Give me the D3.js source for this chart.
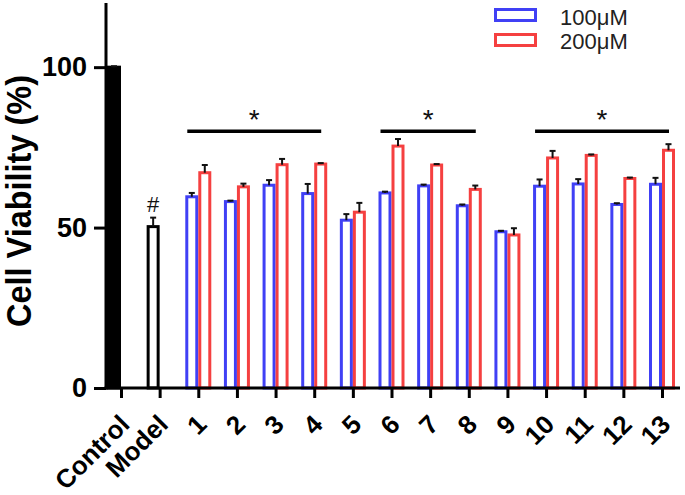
<!DOCTYPE html>
<html>
<head>
<meta charset="utf-8">
<script src="https://cdn.jsdelivr.net/npm/d3@7"></script>
<style>
  html, body { margin: 0; padding: 0; background: #fff; }
  svg { display: block; font-family: "Liberation Sans", Arial, Helvetica, sans-serif; }
</style>
</head>
<body>
<svg id="chart" width="685" height="495"></svg>
<script>
// ---- data ----
const categories = ["Control", "Model", "1", "2", "3", "4", "5", "6", "7", "8", "9", "10", "11", "12", "13"];
const seriesNames = ["100\u03bcM", "200\u03bcM"];
const values100 = [100, 50.3, 59.6, 58.1, 63.2, 60.6, 52.3, 60.8, 63.0, 56.8, 48.7, 62.9, 63.6, 57.2, 63.5];
const errors100 = [0.3, 2.8, 1.2, 0.3, 1.6, 3.0, 1.9, 0.4, 0.4, 0.4, 0.3, 2.1, 1.5, 0.4, 2.0];
const values200 = [null, null, 67.1, 62.7, 69.6, 69.8, 54.8, 75.4, 69.5, 61.9, 47.7, 71.7, 72.5, 65.3, 74.1];
const errors200 = [null, null, 2.4, 1.0, 1.8, 0.3, 2.9, 2.2, 0.3, 1.2, 2.1, 2.2, 0.3, 0.3, 1.9];
const yTicks = [0, 50, 100];
const yLabel = "Cell Viability (%)";
const sigGroups = [["1", "4"], ["6", "8"], ["10", "13"]];
const sigLevel = 80;
const sigMark = "*";
const modelMark = "#";

// ---- layout ----
const svg = d3.select("#chart");
const axisX = 106, axisY = 388, axisRight = 680;
const x = d3.scalePoint().domain(categories).range([121, 662]);
const y = d3.scaleLinear().domain([0, 120]).range([axisY, 3]);
const barW = 13, sw = 3;
const blue = "#4040f5", red = "#f54040";

const rows100 = categories.map((c, i) => ({c, i, v: values100[i], e: errors100[i]}));
const rows200 = categories.map((c, i) => ({c, i, v: values200[i], e: errors200[i]})).filter(d => d.v != null);

function colorFor(d) {
  if (d.c === "Control" || d.c === "Model") return "#000";
  return blue;
}

svg.append("g").selectAll("rect").data(rows100).join("rect")
  .attr("x", d => d.c === "Control" ? x(d.c) - 14 + sw/2 : x(d.c) - barW + sw/2)
  .attr("width", d => d.c === "Control" ? 14 - sw : barW - sw)
  .attr("y", d => y(d.v))
  .attr("height", d => y(0) - y(d.v))
  .attr("fill", d => d.c === "Control" ? "#000" : "#fff")
  .attr("stroke", d => colorFor(d))
  .attr("stroke-width", sw);

svg.append("g").selectAll("rect").data(rows200).join("rect")
  .attr("x", d => x(d.c) + sw/2)
  .attr("width", barW - sw)
  .attr("y", d => y(d.v))
  .attr("height", d => y(0) - y(d.v))
  .attr("fill", "#fff")
  .attr("stroke", red)
  .attr("stroke-width", sw);

// error bars
function errBars(rows, offset) {
  const g = svg.append("g").attr("stroke", "#111").attr("stroke-width", 2);
  rows.forEach(d => {
    const cx = x(d.c) + offset(d);
    g.append("line").attr("x1", cx).attr("x2", cx).attr("y1", y(d.v)).attr("y2", y(d.v + d.e));
    g.append("line").attr("x1", cx - 3).attr("x2", cx + 3).attr("y1", y(d.v + d.e)).attr("y2", y(d.v + d.e));
  });
}
errBars(rows100, d => d.c === "Control" ? -7 : -barW / 2);
errBars(rows200, d => barW / 2);

// model mark
const mi = categories.indexOf("Model");
svg.append("text")
  .attr("x", x("Model") - barW / 2)
  .attr("y", y(values100[mi] + errors100[mi]) - 6)
  .attr("text-anchor", "middle")
  .attr("font-size", 22)
  .attr("fill", "#111")
  .text(modelMark);

// significance lines
sigGroups.forEach(([a, b]) => {
  const x1 = x(a) - 11, x2 = x(b) + 7;
  svg.append("line")
    .attr("x1", x1).attr("x2", x2)
    .attr("y1", y(sigLevel)).attr("y2", y(sigLevel))
    .attr("stroke", "#000").attr("stroke-width", 3.5);
  svg.append("text")
    .attr("x", (x1 + x2) / 2)
    .attr("y", y(sigLevel) - 2)
    .attr("text-anchor", "middle")
    .attr("font-size", 28)
    .attr("fill", "#111")
    .text(sigMark);
});

// y axis
const yAxis = svg.append("g")
  .attr("transform", `translate(${axisX},0)`)
  .call(d3.axisLeft(y).tickValues(yTicks).tickSize(12).tickPadding(7).tickFormat(d3.format("d")));
yAxis.select(".domain").remove();
yAxis.selectAll(".tick line").attr("stroke", "#000").attr("stroke-width", 3);
yAxis.selectAll(".tick text")
  .attr("font-size", 27).attr("font-weight", "bold").attr("fill", "#000")
  .attr("font-family", "Liberation Sans, Arial, sans-serif");
svg.append("line").attr("x1", axisX).attr("x2", axisX).attr("y1", y(120)).attr("y2", axisY + 1.5)
  .attr("stroke", "#000").attr("stroke-width", 3);

// x axis
const xAxis = svg.append("g")
  .attr("transform", `translate(0,${axisY})`)
  .call(d3.axisBottom(x).tickSize(10).tickFormat(""));
xAxis.select(".domain").remove();
xAxis.selectAll(".tick line").attr("stroke", "#000").attr("stroke-width", 3);
svg.append("line").attr("x1", axisX - 1.5).attr("x2", axisRight).attr("y1", axisY).attr("y2", axisY)
  .attr("stroke", "#000").attr("stroke-width", 3);

svg.append("g").selectAll("text").data(categories).join("text")
  .attr("transform", d => `translate(${x(d) + 10},${426}) rotate(-45)`)
  .attr("text-anchor", "end")
  .attr("font-size", 26)
  .attr("font-weight", "bold")
  .attr("fill", "#000")
  .text(d => d);

// y label
svg.append("text")
  .attr("transform", `translate(31,${201}) rotate(-90)`)
  .attr("text-anchor", "middle")
  .attr("font-size", 35)
  .attr("font-weight", "bold")
  .attr("fill", "#000")
  .attr("textLength", 252)
  .attr("lengthAdjust", "spacingAndGlyphs")
  .text(yLabel);

// legend
const legend = svg.append("g");
[blue, red].forEach((col, i) => {
  legend.append("rect")
    .attr("x", 495.5).attr("y", 9.5 + i * 25)
    .attr("width", 40).attr("height", 11)
    .attr("fill", "#fff").attr("stroke", col).attr("stroke-width", 3);
  legend.append("text")
    .attr("x", 560).attr("y", 25 + i * 23.5)
    .attr("font-size", 22).attr("fill", "#222")
    .text(seriesNames[i]);
});
</script>
</body>
</html>
